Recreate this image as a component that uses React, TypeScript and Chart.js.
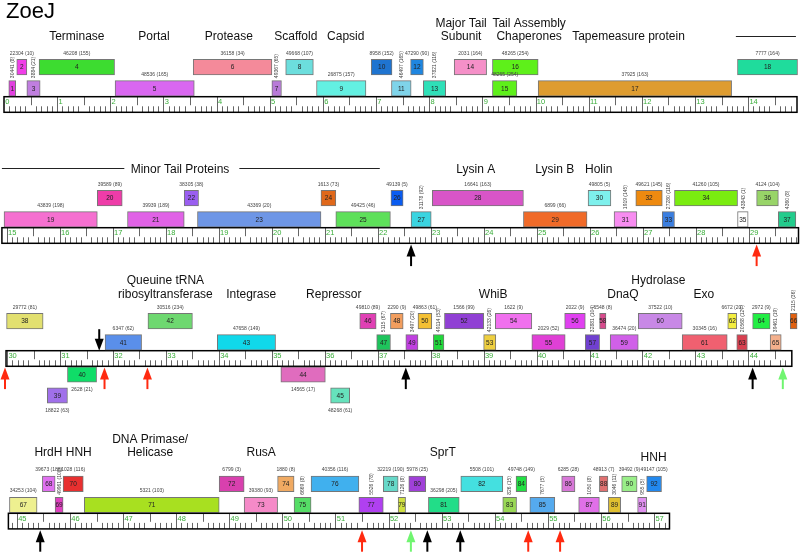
import React, { useEffect, useRef } from "react";
import { Chart, registerables } from "chart.js";

Chart.register(...registerables);

// ---------------- DATA ----------------
// gene n = index + 1 ; coordinates in kb
const geneStarts = [
  0.09, 0.24, 0.43, 0.66, 2.09, 3.56, 5.04, 5.30, 5.88, 6.91, 7.29, 7.65, 7.89, 8.47, 9.19, 9.19, 10.05, 13.80,
  14.95, 16.71, 17.28, 18.35, 18.60, 20.93, 21.21, 22.25, 22.63, 23.03, 24.75, 25.97, 26.46, 26.87, 27.37, 27.60, 28.79, 29.15, 29.56,
  29.99, 30.76, 31.14, 31.85, 32.66, 33.97, 35.17, 36.11, 36.66, 36.98, 37.24, 37.53, 37.76, 38.05, 38.26, 39.00, 39.22, 39.91, 40.53, 40.92, 41.19, 41.39, 41.92, 42.75, 43.61, 43.78, 44.08, 44.41, 44.79,
  44.86, 45.48, 45.72, 45.87, 46.27, 48.81, 49.28, 49.91, 50.22, 50.54, 51.44, 51.90, 52.18, 52.38, 52.75, 53.36, 54.15, 54.40, 54.66, 55.26, 55.58, 55.97, 56.14, 56.39, 56.69, 56.86,
];
const geneEnds = [
  0.22, 0.43, 0.68, 2.08, 3.58, 5.04, 5.22, 5.82, 6.81, 7.30, 7.66, 7.89, 8.31, 9.08, 9.65, 10.05, 13.69, 14.93,
  16.71, 17.18, 18.35, 18.62, 20.93, 21.21, 22.24, 22.48, 23.01, 24.75, 25.95, 26.40, 26.89, 27.37, 27.60, 28.79, 28.99, 29.56, 29.89,
  30.68, 31.14, 31.69, 32.54, 33.50, 35.07, 36.01, 36.47, 36.97, 37.24, 37.48, 37.76, 38.02, 38.25, 39.00, 39.23, 39.91, 40.54, 40.92, 41.19, 41.31, 41.92, 42.75, 43.60, 43.78, 43.98, 44.41, 44.62, 44.92,
  45.38, 45.72, 45.87, 46.25, 48.81, 49.28, 49.91, 50.22, 50.54, 51.44, 51.90, 52.18, 52.32, 52.70, 53.33, 54.15, 54.41, 54.60, 55.13, 55.51, 55.97, 56.13, 56.37, 56.68, 56.86, 57.14,
];
// map row of each gene (0..3)
const geneRows = [
  0, 0, 0, 0, 0, 0, 0, 0, 0, 0, 0, 0, 0, 0, 0, 0, 0, 0,
  1, 1, 1, 1, 1, 1, 1, 1, 1, 1, 1, 1, 1, 1, 1, 1, 1, 1, 1,
  2, 2, 2, 2, 2, 2, 2, 2, 2, 2, 2, 2, 2, 2, 2, 2, 2, 2, 2, 2, 2, 2, 2, 2, 2, 2, 2, 2, 2,
  3, 3, 3, 3, 3, 3, 3, 3, 3, 3, 3, 3, 3, 3, 3, 3, 3, 3, 3, 3, 3, 3, 3, 3, 3, 3,
];
// lane: 2 = upper, 1 = next to ruler, -1 = below ruler, -2 = further below
const geneLanes = [
  1, 2, 1, 2, 1, 2, 1, 2, 1, 2, 1, 2, 1, 2, 1, 2, 1, 2,
  1, 2, 1, 2, 1, 2, 1, 2, 1, 2, 1, 2, 1, 2, 1, 2, 1, 2, 1,
  2, -2, -1, 1, 2, 1, -1, -2, 2, 1, 2, 1, 2, 1, 2, 1, 2, 1, 2, 1, 2, 1, 2, 1, 2, 1, 2, 1, 2,
  1, 2, 1, 2, 1, 2, 1, 2, 1, 2, 1, 2, 1, 2, 1, 2, 1, 2, 1, 2, 1, 2, 1, 2, 1, 2,
];
const geneNotes = [
  "30441 (8)", "22304 (10)", "3884 (21)", "46208 (155)", "48536 (165)", "36158 (34)", "49367 (65)", "49668 (107)", "26875 (157)",
  "8958 (152)", "46497 (165)", "47290 (90)", "37821 (116)", "2031 (164)", "48265 (254)", "48265 (254)", "37925 (163)", "7777 (164)",
  "43839 (198)", "39589 (89)", "39939 (189)", "38305 (38)", "43369 (20)", "1613 (73)", "49425 (46)", "49139 (5)", "31178 (92)",
  "16641 (163)", "6899 (66)", "49805 (5)", "1919 (145)", "49621 (145)", "27280 (116)", "41260 (105)", "43843 (1)", "4124 (104)", "4360 (8)",
  "29772 (81)", "18822 (63)", "2628 (21)", "6347 (62)", "30516 (234)", "47658 (149)", "14565 (17)", "48268 (61)", "49810 (89)",
  "5115 (67)", "2290 (9)", "3497 (20)", "49863 (61)", "49114 (53)", "1566 (99)", "42133 (26)", "1622 (9)", "2029 (52)", "2022 (9)",
  "32881 (104)", "6548 (8)", "36474 (20)", "37522 (10)", "30345 (16)", "6672 (20)", "20568 (127)", "2972 (9)", "39461 (19)", "2115 (36)",
  "34253 (104)", "39673 (188)", "49961 (100)", "1028 (116)", "5321 (103)", "6799 (3)", "39380 (93)", "1880 (8)", "6669 (8)",
  "40356 (116)", "5526 (78)", "32219 (190)", "7126 (8)", "5978 (25)", "36298 (205)", "5508 (101)", "826 (15)", "49748 (149)",
  "7677 (5)", "6285 (28)", "1050 (8)", "48913 (7)", "3046 (11)", "39492 (9)", "955 (5)", "49147 (105)",
];
const geneColors = [
  "#e23fe0", "#f03ee8", "#c07ee0", "#3ddc30", "#d967f0", "#f48a9a", "#b87ad8", "#6cdedd", "#63f0e2",
  "#1f74d0", "#7fd4ea", "#1f86e0", "#2fe0b8", "#f590c8", "#5ef01a", "#5ef01a", "#de9c30", "#1fdc9c",
  "#f570d0", "#ee3ca8", "#e062e6", "#9a5ef0", "#6e96e6", "#e0681a", "#5ee05a", "#0a5cf0", "#3ad4e0",
  "#d855c8", "#f06a28", "#7ef0ec", "#f78cf0", "#ee8a10", "#3a7ee0", "#7aec10", "#ffffff", "#98d468", "#22cc8c",
  "#e2e070", "#a070ea", "#10dd68", "#5a8fea", "#6ed870", "#10d8ea", "#e06cbe", "#66e2bc", "#e040b4",
  "#1ec45c", "#f29e5e", "#c040e0", "#f4c034", "#20d83a", "#9040d4", "#eecf40", "#f070ee", "#e040d6", "#e040f0",
  "#7040d0", "#d84a8c", "#d060e8", "#c888e6", "#f06070", "#f4ee40", "#d84050", "#22ee44", "#f4b08c", "#e06010",
  "#eef090", "#e070f0", "#e040c0", "#e83030", "#a8e020", "#d840ae", "#f58ac8", "#f0aa62", "#55dd66",
  "#40b0ee", "#b040f0", "#66d8c8", "#d0e040", "#a040d8", "#22dd88", "#44e0e0", "#99d855", "#22e044",
  "#55aaee", "#d878d8", "#e070e8", "#e07070", "#e0c030", "#99ee88", "#e090f0", "#2288ee",
];
// genes whose note is written vertically
const verticalNoteGenes = [1, 3, 7, 11, 13, 27, 31, 33, 35, 37, 47, 49, 51, 53, 57, 63, 65, 66, 69, 75, 77, 79, 83, 85, 87, 89, 91];

// ruler extent of each map row, kb
const rulerStarts = [0, 14.91, 29.98, 44.84];
const rulerEnds = [14.92, 29.94, 44.82, 57.29];

// arrows under / over the ruler
const arrowRows = [1, 1, 2, 2, 2, 2, 2, 2, 2, 3, 3, 3, 3, 3, 3, 3];
const arrowPositions = [22.63, 29.15, 29.96, 31.84, 32.65, 31.74, 37.53, 44.08, 44.65, 45.44, 51.5, 52.42, 52.73, 53.35, 54.63, 55.23];
const arrowKinds = ["black", "red", "red", "red", "red", "blackDown", "black", "black", "green", "black", "red", "green", "black", "black", "red", "red"];

// function labels
const functionTexts = [
  "Terminase", "Portal", "Protease", "Scaffold", "Capsid", "Major Tail", "Subunit", "Tail Assembly", "Chaperones", "Tapemeasure protein",
  "Minor Tail Proteins", "Lysin A", "Lysin B", "Holin",
  "Queuine tRNA", "ribosyltransferase", "Integrase", "Repressor", "WhiB", "DnaQ", "Hydrolase", "Exo",
  "DNA Primase/", "Helicase", "HrdH HNH", "RusA", "SprT", "HNH",
];
const functionRows = [0, 0, 0, 0, 0, 0, 0, 0, 0, 0, 1, 1, 1, 1, 2, 2, 2, 2, 2, 2, 2, 2, 3, 3, 3, 3, 3, 3];
const functionPositions = [
  1.37, 2.82, 4.23, 5.49, 6.43, 8.6, 8.6, 9.88, 9.88, 11.75,
  18.27, 23.85, 25.34, 26.17,
  32.99, 32.99, 34.61, 36.17, 39.18, 41.63, 42.3, 43.16,
  47.51, 47.51, 45.87, 49.6, 53.02, 56.99,
];
const functionLines = [2, 2, 2, 2, 2, 1, 2, 1, 2, 2, 2, 2, 2, 2, 1, 2, 2, 2, 2, 2, 1, 2, 1, 2, 2, 2, 2, 2.37];

// bracket lines beside "Minor Tail Proteins"
const bracketRows = [0, 1, 1];
const bracketFrom = [13.77, 14.91, 19.39];
const bracketTo = [14.9, 17.22, 22.04];

// ---------------- LAYOUT ----------------
const W = 800;
const H = 553;
const ROW_MIN = [-0.0753, 14.874, 29.866, 44.682];
const ROW_PX_PER_KB = [53.15, 53.0, 52.95, 53.1];
const RULER_TOP = [96.7, 227.7, 350.7, 513.3];
const RULER_H = 15.6;
const LANE_OFFSET: Record<string, number> = { "2": -29.5, "1": -8.3, "-1": 23.8, "-2": 44.8 };
const TEXT_LINE2 = [-60.9, -59.4, -57.4, -61.6];
const FONT = '"Liberation Sans", Arial, Helvetica, sans-serif';
const ARROW_COLORS: Record<string, string> = { black: "#000000", blackDown: "#000000", red: "#ff2a10", green: "#70f570" };

function drawArrow(ctx: CanvasRenderingContext2D, x: number, tip: number, dir: number, color: string) {
  // dir = 1 : pointing up (tip at top), dir = -1 : pointing down
  ctx.fillStyle = color;
  ctx.strokeStyle = color;
  ctx.lineWidth = 2;
  ctx.beginPath();
  ctx.moveTo(x, tip + dir * 9);
  ctx.lineTo(x, tip + dir * 21.5);
  ctx.stroke();
  ctx.beginPath();
  ctx.moveTo(x, tip);
  ctx.lineTo(x - 4.5, tip + dir * 12);
  ctx.lineTo(x + 4.5, tip + dir * 12);
  ctx.closePath();
  ctx.fill();
}

const mapPlugin = {
  id: "genomeMap",
  beforeDatasetsDraw(chart: any) {
    const ctx: CanvasRenderingContext2D = chart.ctx;
    ctx.save();
    // rulers
    for (let r = 0; r < 4; r++) {
      const sc = chart.scales["x" + r];
      const L = sc.getPixelForValue(rulerStarts[r]);
      const R = sc.getPixelForValue(rulerEnds[r]);
      const T = RULER_TOP[r];
      const B = T + RULER_H;
      ctx.fillStyle = "#fff";
      ctx.fillRect(L, T, R - L, RULER_H);
      ctx.strokeStyle = "#666";
      ctx.lineWidth = 1;
      const k0 = Math.ceil(rulerStarts[r] * 10 - 1e-6);
      const k1 = Math.floor(rulerEnds[r] * 10 + 1e-6);
      for (let k = k0; k <= k1; k++) {
        const px = Math.round(sc.getPixelForValue(k / 10)) + 0.5;
        if (px <= L + 1 || px >= R - 1) continue;
        ctx.beginPath();
        if (k % 10 === 0) {
          ctx.moveTo(px, T);
          ctx.lineTo(px, B);
        } else if (k % 5 === 0) {
          ctx.moveTo(px, T);
          ctx.lineTo(px, T + 8.5);
        } else {
          ctx.moveTo(px, B - 6);
          ctx.lineTo(px, B);
        }
        ctx.stroke();
      }
      ctx.fillStyle = "#3aae3a";
      ctx.font = `7.5px ${FONT}`;
      ctx.textAlign = "left";
      ctx.textBaseline = "top";
      for (let k = Math.ceil(rulerStarts[r]); k <= Math.floor(rulerEnds[r]); k++) {
        const px = sc.getPixelForValue(k);
        ctx.fillText(String(k), px + 1.3, T + 1.6);
      }
      ctx.strokeStyle = "#000";
      ctx.lineWidth = 1.5;
      ctx.strokeRect(L, T, R - L, RULER_H);
    }
    ctx.restore();
  },
  afterDatasetsDraw(chart: any) {
    const ctx: CanvasRenderingContext2D = chart.ctx;
    ctx.save();

    // title
    ctx.fillStyle = "#000";
    ctx.font = `22px ${FONT}`;
    ctx.textAlign = "left";
    ctx.textBaseline = "alphabetic";
    ctx.fillText("ZoeJ", 6, 17.5);

    // gene numbers and notes
    chart.data.datasets.forEach((ds: any, di: number) => {
      const meta = chart.getDatasetMeta(di);
      const idx: number[] = ds.geneIdx;
      meta.data.forEach((el: any, j: number) => {
        const i = idx[j];
        const p = el.getProps(["x", "y", "base", "height"], true);
        const cx = (p.x + p.base) / 2;
        const top = p.y - p.height / 2;
        const bottom = p.y + p.height / 2;
        ctx.fillStyle = "#222";
        ctx.font = `6.5px ${FONT}`;
        ctx.textAlign = "center";
        ctx.textBaseline = "middle";
        ctx.fillText(String(i + 1), cx, p.y + 0.5);

        ctx.fillStyle = "#444";
        ctx.font = `5px ${FONT}`;
        if (verticalNoteGenes.indexOf(i + 1) >= 0) {
          ctx.save();
          ctx.translate(cx, top - 2.5);
          ctx.rotate(-Math.PI / 2);
          ctx.textAlign = "left";
          ctx.textBaseline = "middle";
          ctx.fillText(geneNotes[i], 0, 0.3);
          ctx.restore();
        } else if (geneLanes[i] > 0) {
          ctx.fillText(geneNotes[i], cx, top - 6.3);
        } else {
          ctx.fillText(geneNotes[i], cx, bottom + 7.5);
        }
      });
    });

    // function labels
    ctx.fillStyle = "#111";
    ctx.font = `12px ${FONT}`;
    ctx.textAlign = "center";
    ctx.textBaseline = "alphabetic";
    functionTexts.forEach((t, i) => {
      const r = functionRows[i];
      const sc = chart.scales["x" + r];
      const y = RULER_TOP[r] + TEXT_LINE2[r] + (functionLines[i] - 2) * 13.5;
      ctx.fillText(t, sc.getPixelForValue(functionPositions[i]), y + 4.3);
    });

    // bracket lines
    ctx.strokeStyle = "#222";
    ctx.lineWidth = 1;
    bracketRows.forEach((r, i) => {
      const sc = chart.scales["x" + r];
      const y = Math.round(RULER_TOP[r] + TEXT_LINE2[r]) + 0.5;
      ctx.beginPath();
      ctx.moveTo(sc.getPixelForValue(bracketFrom[i]), y);
      ctx.lineTo(sc.getPixelForValue(bracketTo[i]), y);
      ctx.stroke();
    });

    // arrows
    arrowRows.forEach((r, i) => {
      const sc = chart.scales["x" + r];
      const x = sc.getPixelForValue(arrowPositions[i]);
      const kind = arrowKinds[i];
      if (kind === "blackDown") {
        drawArrow(ctx, x, RULER_TOP[r], -1, ARROW_COLORS[kind]);
      } else {
        drawArrow(ctx, x, RULER_TOP[r] + RULER_H + 1.3, 1, ARROW_COLORS[kind]);
      }
    });

    ctx.restore();
  },
};

export default function App() {
  const canvasRef = useRef<HTMLCanvasElement | null>(null);

  useEffect(() => {
    document.body.style.margin = "0";
    const canvas = canvasRef.current;
    if (!canvas) return;

    const datasets = [0, 1, 2, 3].map((r) => {
      const idx = geneStarts.map((_, i) => i).filter((i) => geneRows[i] === r);
      return {
        type: "bar",
        xAxisID: "x" + r,
        yAxisID: "y",
        geneIdx: idx,
        data: idx.map((i) => ({
          x: [geneStarts[i], geneEnds[i]],
          y: RULER_TOP[r] + LANE_OFFSET[String(geneLanes[i])],
        })),
        backgroundColor: idx.map((i) => geneColors[i]),
        borderColor: "rgba(60,60,60,0.7)",
        borderWidth: 1,
        borderSkipped: false,
        barThickness: 15.5,
        grouped: false,
        clip: false,
      };
    });

    const scales: any = {
      y: { type: "linear", axis: "y", min: 0, max: H, reverse: true, offset: false, grace: 0, display: false },
    };
    for (let r = 0; r < 4; r++) {
      scales["x" + r] = {
        type: "linear",
        axis: "x",
        min: ROW_MIN[r],
        max: ROW_MIN[r] + W / ROW_PX_PER_KB[r],
        offset: false,
        display: false,
      };
    }

    const chart = new Chart(canvas, {
      type: "bar",
      data: { datasets: datasets as any },
      options: {
        indexAxis: "y",
        responsive: false,
        animation: false,
        devicePixelRatio: 1,
        layout: { padding: 0 },
        scales,
        plugins: { legend: { display: false }, tooltip: { enabled: false }, title: { display: false } },
      } as any,
      plugins: [mapPlugin],
    });

    return () => chart.destroy();
  }, []);

  return (
    <div style={{ position: "absolute", left: 0, top: 0, width: W, height: H, background: "#fff" }}>
      <canvas ref={canvasRef} width={W} height={H} style={{ width: W, height: H, display: "block" }} />
    </div>
  );
}
